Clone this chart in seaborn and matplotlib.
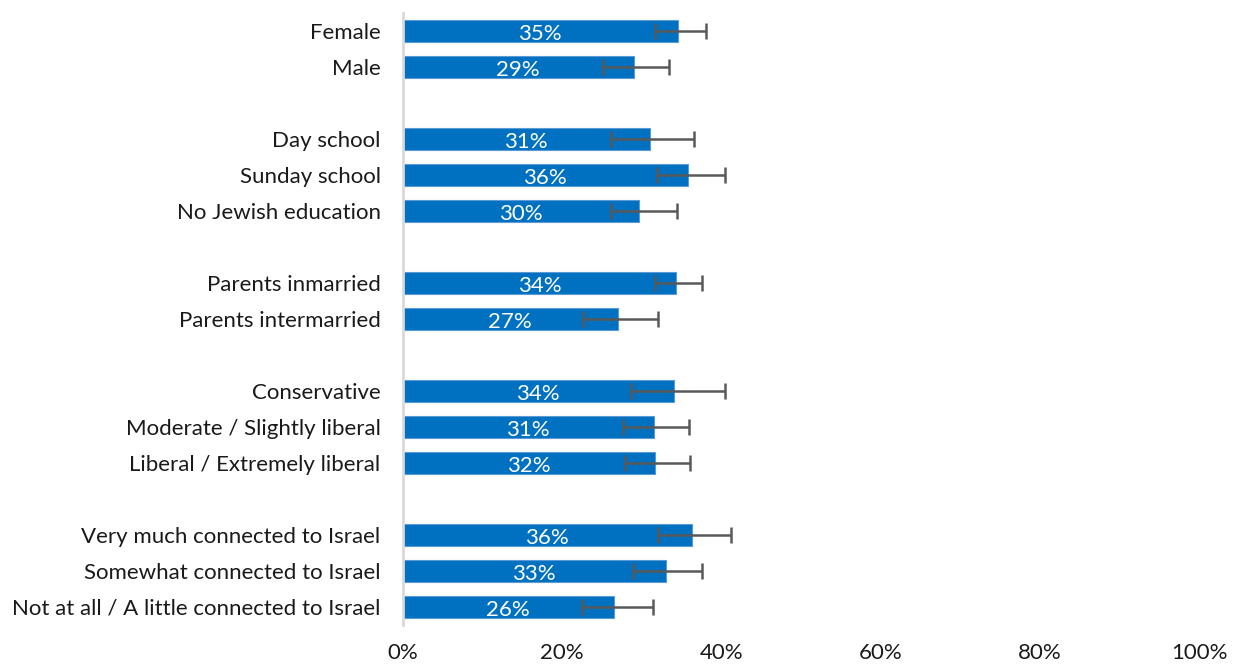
import matplotlib
matplotlib.use("Agg")
import matplotlib.pyplot as plt
import seaborn as sns
import pandas as pd

categories = ["Female", "Male",
              "Day school", "Sunday school", "No Jewish education",
              "Parents inmarried", "Parents intermarried",
              "Conservative", "Moderate / Slightly liberal", "Liberal / Extremely liberal",
              "Very much connected to Israel", "Somewhat connected to Israel",
              "Not at all / A little connected to Israel"]
values = [34.5, 29.0, 31.0, 35.8, 29.7, 34.3, 27.0, 34.0, 31.5, 31.7, 36.3, 33.0, 26.5]
labels = ["35%", "29%", "31%", "36%", "30%", "34%", "27%", "34%", "31%", "32%", "36%", "33%", "26%"]
err_low = [31.6, 25.1, 26.1, 31.9, 26.1, 31.6, 22.6, 28.6, 27.6, 27.9, 32.1, 28.9, 22.5]
err_high = [38.1, 33.4, 36.6, 40.4, 34.4, 37.6, 32.1, 40.4, 35.9, 36.1, 41.2, 37.6, 31.4]
groups = [2, 3, 2, 3, 3]
xticks = [0, 20, 40, 60, 80, 100]
xtick_labels = ["0%", "20%", "40%", "60%", "80%", "100%"]

# order with blank spacer rows between groups
order = []
i = 0
for g_idx, g in enumerate(groups):
    order.extend(categories[i:i + g])
    i += g
    if g_idx < len(groups) - 1:
        order.append(" " * (g_idx + 1))

df = pd.DataFrame({"cat": categories, "val": values})

sns.set_theme(style="white")
plt.rcParams["font.family"] = ["Lato", "DejaVu Sans"]

fig = plt.figure(figsize=(12.43, 6.67), dpi=100)
ax = fig.add_axes([0.324, 0.063, 0.641, 0.9175])

sns.barplot(data=df, x="val", y="cat", order=order, orient="h",
            color="#0070C0", saturation=1, width=0.6, ax=ax,
            edgecolor="#5B9BD5", linewidth=0.8, errorbar=None)

ypos = [order.index(c) for c in categories]
xerr = [[v - l for v, l in zip(values, err_low)], [h - v for v, h in zip(values, err_high)]]
ax.errorbar(x=values, y=ypos, xerr=xerr, fmt="none", ecolor="#595959",
            elinewidth=1.8, capsize=6, capthick=1.8, zorder=5)

for y, v, lab in zip(ypos, values, labels):
    ax.text(v / 2, y + 0.08, lab, color="white", ha="center", va="center", fontsize=16, zorder=6)

ax.set_xlim(0, 100)
ax.set_ylim(len(order) - 0.5, -0.5)
ax.set_xticks(xticks)
ax.set_xticklabels(xtick_labels, fontsize=16, color="#1a1a1a")
ax.tick_params(axis="y", labelsize=16, colors="#1a1a1a", length=0, pad=16)
ax.tick_params(axis="x", length=0, pad=13)
ax.set_xlabel("")
ax.set_ylabel("")
for s in ["top", "right", "bottom"]:
    ax.spines[s].set_visible(False)
ax.spines["left"].set_color("#D9D9D9")
ax.spines["left"].set_linewidth(2)

fig.savefig("out.png", dpi=100, facecolor="white")
